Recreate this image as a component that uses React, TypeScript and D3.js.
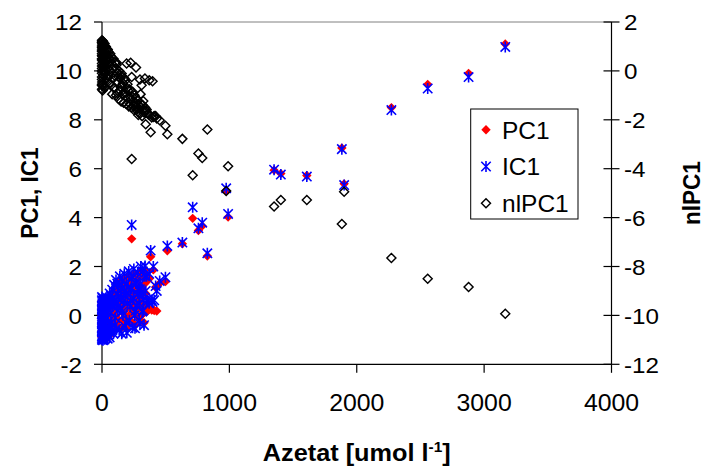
import React from "react";
import * as d3 from "d3";

// samples: acetate concentration and the three component scores
const acetate = [
  0, 0, 2, 0, 3, 0, 5, 0, 4, 0,
  6, 0, 8, 0, 10, 0, 12, 0, 15, 18,
  20, 22, 25, 28, 30, 32, 35, 38, 40, 0,
  0, 14, 45, 50, 55, 60, 8, 20, 45, 5,
  65, 70, 75, 80, 85, 90, 95, 100, 105, 110,
  115, 120, 125, 130, 135, 140, 145, 150, 155, 160,
  165, 170, 175, 180, 185, 190, 195, 200, 210, 215,
  225, 230, 240, 245, 250, 255, 259, 265, 270, 280,
  290, 298, 298, 305, 315, 325, 338, 350, 360, 370,
  390, 410, 430, 115, 193, 225, 267, 154, 233, 298,
  337, 371, 311, 303, 324, 292, 343, 350, 397, 403,
  382, 421, 453, 498, 513, 631, 712, 757, 787, 827,
  975, 990, 233, 1351, 1404, 1608, 1883, 1901, 2272, 2557,
  2878, 3166,
  0, 0, 0, 0, 0, 0, 0, 2, 10, 10,
  15, 25, 25, 30, 35, 40, 50, 50, 60, 60,
  70, 80, 90, 100, 110, 120, 130, 145, 160, 175,
  190, 205, 220, 235, 250, 265, 280, 285, 320, 330,
  20, 0, 0, 5, 15, 40,
];

const pc1 = [
  -0.85, -0.8, -0.7, -0.62, -0.55, -0.45, -0.38, -0.3, -0.2, -0.1,
  0.0, 0.1, 0.2, 0.3, 0.4, 0.5, 0.55, 0.35, -0.6, -0.4,
  -0.15, 0.05, 0.25, 0.45, -0.75, -0.5, -0.25, 0.0, 0.3, 0.05,
  -0.15, 0.15, 0.2, -0.6, -0.3, 0.1, -0.95, -0.85, -0.9, 0.65,
  -0.5, 0.6, -0.2, 0.9, 0.2, -0.6, 1.1, 0.4, 0.0, 1.3,
  -0.4, 0.7, 0.3, 1.0, -0.2, 1.4, 0.5, 0.9, -0.5, 1.2,
  0.1, 0.8, 1.5, -0.3, 0.6, 1.1, -0.55, 0.3, 1.6, 0.0,
  0.8, 1.3, -0.3, 0.5, 1.7, 0.2, -0.4, 1.0, 0.6, 1.5,
  0.3, 0.95, -0.2, 1.8, 0.05, 0.09, 1.85, 0.15, 0.2, 0.25,
  0.22, 0.2, 0.18, 0.35, 0.7, 0.4, 1.2, 0.6, 1.0, 0.5,
  1.3, 1.5, 0.7, 1.1, 0.4, -0.1, 0.9, 1.4, 0.25, 1.86,
  2.4, 1.15, 1.31, 1.38, 2.64, 2.93, 3.97, 3.47, 3.66, 2.43,
  5.1, 4.02, 3.13, 5.94, 5.8, 5.72, 6.85, 5.38, 8.5, 9.45,
  9.9, 11.1,
  -0.5, -0.2, 0.2, 0.45, -0.7, 0.0, -0.4, 0.25, -0.65, 0.1,
  0.5, -0.45, 0.6, 0.1, 0.5, -0.45, 0.4, 0.0, 0.7, -0.8,
  0.3, -0.4, 0.8, -0.1, 0.6, 1.1, 0.5, 1.2, 0.35, 0.75,
  -0.1, 1.0, 0.6, 1.45, 0.9, 0.0, 0.7, 1.3, 1.6, -0.3,
  0.3, 0.6, -0.9, -0.25, 0.0, -0.1,
];

const ic1 = [
  -0.95, -0.88, -0.8, -0.7, -0.6, -0.5, -0.42, -0.3, -0.22, -0.12,
  -0.02, 0.1, 0.22, 0.35, 0.45, 0.58, 0.68, 0.2, -0.75, -0.55,
  -0.35, -0.1, 0.15, 0.35, -0.9, -0.65, -0.45, 0.2, 0.5, 0.25,
  -0.05, 0.3, 0.45, -0.8, -0.5, 0.55, -1.02, -0.98, -0.95, 0.7,
  -0.7, 0.8, -0.3, 1.05, 0.35, -0.75, 1.25, 0.6, -0.1, 1.45,
  -0.55, 0.9, 0.2, 1.2, -0.6, 1.6, 0.3, 1.1, -0.75, 1.4,
  0.0, 0.6, 1.7, -0.45, 0.8, 1.3, -0.71, 0.5, 1.8, -0.2,
  1.07, 1.5, -0.5, 0.7, 1.9, 0.0, -0.53, 1.3, 0.4, 1.75,
  0.5, 1.07, -0.35, 2.0, 0.15, 0.63, 2.02, 0.62, 0.58, 0.5,
  0.63, 0.62, 1.0, 0.5, 0.9, 0.6, 1.4, 0.75, 1.1, 0.8,
  1.6, 1.7, 0.95, 1.3, 0.2, -0.2, 1.0, 1.6, 0.55, 2.0,
  2.65, 1.2, 1.41, 1.56, 2.84, 2.98, 4.42, 3.56, 3.79, 2.54,
  5.2, 4.15, 3.7, 5.96, 5.76, 5.68, 6.8, 5.33, 8.4, 9.28,
  9.75, 10.98,
  -0.55, -0.3, 0.4, 0.62, -0.85, 0.05, -0.65, 0.5, -0.85, 0.3,
  0.6, -0.6, 0.65, -0.15, 0.4, -0.7, 0.65, -0.25, 0.9, -0.9,
  0.1, -0.6, 0.6, -0.4, 0.45, 1.3, 0.65, 1.0, 0.15, 1.0,
  -0.3, 1.15, 0.35, 1.6, 0.7, 0.2, 0.9, 1.1, 1.8, -0.4,
  0.55, 0.75, -1.0, -0.5, 0.15, 0.3,
];

const nlpc1 = [
  1.25, 1.18, 1.1, 1.02, 0.95, 0.85, 0.78, 0.7, 0.6, 0.5,
  0.4, 0.3, 0.2, 0.1, 0.0, -0.1, -0.2, -0.35, 0.9, 0.72,
  0.55, 0.35, 0.15, -0.05, 1.0, 0.62, 0.42, 0.22, -0.3, -0.55,
  -0.75, -0.6, -0.45, 0.78, 0.5, 0.05, 1.2, 1.12, 0.88, -0.8,
  0.7, -0.6, 0.3, -0.95, 0.1, 0.5, -0.7, -0.2, 0.35, -1.0,
  0.25, -0.45, -0.1, -1.15, 0.0, -0.8, -0.3, -1.25, -0.2, -0.6,
  -0.5, -1.3, -0.9, -0.4, -1.05, -1.35, -0.7, -0.55, -1.45, -0.75,
  -1.1, -1.5, -0.85, -1.25, -1.6, -1.0, -1.4, -1.3, -1.6, -1.2,
  -1.7, -1.45, -1.75, -1.35, -1.85, -1.6, -1.5, -1.65, -1.75, -1.8,
  -1.9, -1.85, -1.95, 0.33, 0.3, 0.33, 0.14, -0.11, -0.25, -0.35,
  -0.31, -0.38, -0.59, -0.95, -1.23, -1.54, -2.18, -1.58, -0.42, -1.88,
  -2.51, -1.85, -2.02, -2.24, -2.59, -2.78, -4.27, -3.38, -3.56, -2.4,
  -4.91, -3.9, -3.6, -5.55, -5.28, -5.28, -6.26, -4.94, -7.65, -8.5,
  -8.84, -9.93,
  1.15, 0.95, 0.8, 0.62, 0.45, 0.0, -0.25, -0.45, 1.05, 0.65,
  0.25, 0.98, -0.65, 0.75, 0.05, 0.3, 0.6, -0.2, 0.5, -0.5,
  0.6, -0.1, -0.3, -0.7, 0.1, -0.9, -0.25, -0.65, -0.95, -0.3,
  -0.9, -0.8, -1.35, -1.05, -1.45, -1.1, -1.55, -1.8, -1.4, -1.7,
  -0.7, 0.2, -0.6, 1.22, 1.0, 0.85,
];

const xTicks = [0, 1000, 2000, 3000, 4000];
const leftTicks = [-2, 0, 2, 4, 6, 8, 10, 12];
const rightTicks = [-12, -10, -8, -6, -4, -2, 0, 2];
const legendItems = ["PC1", "IC1", "nlPC1"];

const FONT = "'Liberation Sans', Arial, sans-serif";
const W = 709;
const H = 471;

const diamond = (r: number) => `M0,${-r}L${r},0L0,${r}L${-r},0Z`;
const star = (r: number) =>
  `M${-r},${-r}L${r},${r}M${-r},${r}L${r},${-r}M0,${-r - 0.8}L0,${r + 0.8}`;

const Marker = ({ kind, x, y }: { kind: string; x: number; y: number }) => {
  if (kind === "PC1")
    return <path d={diamond(4.7)} transform={`translate(${x},${y})`} fill="#ff0000" />;
  if (kind === "IC1")
    return (
      <path d={star(4.7)} transform={`translate(${x},${y})`} fill="none" stroke="#0000ff" strokeWidth={1.6} />
    );
  return (
    <path d={diamond(4.5)} transform={`translate(${x},${y})`} fill="none" stroke="#000" strokeWidth={1.45} />
  );
};

export default function App() {
  const x = d3.scaleLinear().domain([0, 4000]).range([102, 611.5]);
  const yL = d3.scaleLinear().domain([-2, 12]).range([364.3, 22]);
  const yR = d3.scaleLinear().domain([-12, 2]).range([364.3, 22]);

  const left = x(0);
  const right = x(4000);
  const top = yL(12);
  const bottom = yL(-2);

  return (
    <svg
      width={W}
      height={H}
      style={{ position: "absolute", left: 0, top: 0, background: "#fff" }}
      fontFamily={FONT}
    >
      <rect width={W} height={H} fill="#fff" />

      {/* frame */}
      <line x1={left} x2={right} y1={top} y2={top} stroke="#808080" strokeWidth={1} />
      <line x1={left} x2={right} y1={bottom} y2={bottom} stroke="#000" strokeWidth={1.2} />
      <line x1={left} x2={left} y1={top} y2={bottom} stroke="#000" strokeWidth={1.2} />
      <line x1={right} x2={right} y1={top} y2={bottom} stroke="#000" strokeWidth={1.2} />

      {/* x axis */}
      {xTicks.map((t) => (
        <g key={`x${t}`}>
          <line x1={x(t)} x2={x(t)} y1={bottom} y2={bottom + 8.5} stroke="#000" strokeWidth={1.2} />
          <text
            transform={`translate(${x(t)},410.7) scale(1.08,1)`}
            textAnchor="middle"
            fontSize={23}
          >
            {t}
          </text>
        </g>
      ))}

      {/* left axis */}
      {leftTicks.map((t) => (
        <g key={`l${t}`}>
          <line x1={left - 8} x2={left} y1={yL(t)} y2={yL(t)} stroke="#000" strokeWidth={1.2} />
          <text
            transform={`translate(82,${yL(t) + 8.2}) scale(1.1,1)`}
            textAnchor="end"
            fontSize={22}
          >
            {t}
          </text>
        </g>
      ))}

      {/* right axis */}
      {rightTicks.map((t) => (
        <g key={`r${t}`}>
          <line x1={right - 8} x2={right + 8} y1={yR(t)} y2={yR(t)} stroke="#000" strokeWidth={1.2} />
          <text
            transform={`translate(624,${yR(t) + 8.2}) scale(1.1,1)`}
            textAnchor="start"
            fontSize={22}
          >
            {t}
          </text>
        </g>
      ))}

      {/* axis titles */}
      <text
        transform={`translate(38,${(top + bottom) / 2}) scale(1.1,1) rotate(-90)`}
        textAnchor="middle"
        fontSize={22.5}
        fontWeight="bold"
      >
        PC1, IC1
      </text>
      <text
        transform={`translate(700,${(top + bottom) / 2}) scale(1.1,1) rotate(-90)`}
        textAnchor="middle"
        fontSize={22.5}
        fontWeight="bold"
      >
        nlPC1
      </text>
      <text
        transform={`translate(${(left + right) / 2},461) scale(1.1,1)`}
        textAnchor="middle"
        fontSize={23}
        fontWeight="bold"
      >
        Azetat [umol l
        <tspan fontSize={14} dy={-9}>
          -1
        </tspan>
        <tspan dy={9}>]</tspan>
      </text>

      {/* series, drawn in legend order */}
      <g>
        {acetate.map((a, i) => (
          <Marker key={`p${i}`} kind="PC1" x={x(a)} y={yL(pc1[i])} />
        ))}
      </g>
      <g>
        {acetate.map((a, i) => (
          <Marker key={`i${i}`} kind="IC1" x={x(a)} y={yL(ic1[i])} />
        ))}
      </g>
      <g>
        {acetate.map((a, i) => (
          <Marker key={`n${i}`} kind="nlPC1" x={x(a)} y={yR(nlpc1[i])} />
        ))}
      </g>

      {/* legend */}
      <g>
        <rect x={470.7} y={109} width={107.3} height={110} fill="#fff" stroke="#000" strokeWidth={1} />
        {legendItems.map((name, i) => {
          const cy = 129.8 + i * 36.7;
          return (
            <g key={name}>
              <Marker kind={name} x={486} y={cy} />
              <text x={502} y={cy + 8.7} fontSize={24.5}>
                {name}
              </text>
            </g>
          );
        })}
      </g>
    </svg>
  );
}
